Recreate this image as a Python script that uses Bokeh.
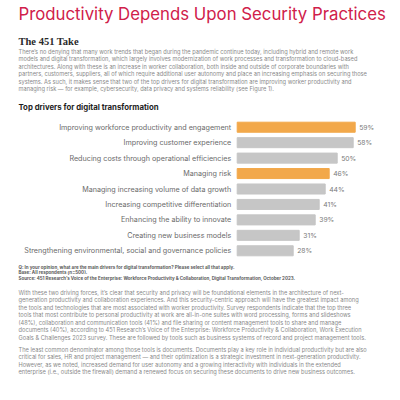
from bokeh.plotting import figure
from bokeh.layouts import column
from bokeh.models import Range1d, FactorRange, ColumnDataSource
from bokeh.core.properties import value
from bokeh.embed import file_html
from bokeh.resources import INLINE

title = "Productivity Depends Upon Security Practices"
subhead = "The 451 Take"
para1 = [
    "There’s no denying that many work trends that began during the pandemic continue today, including hybrid and remote work",
    "models and digital transformation, which largely involves modernization of work processes and transformation to cloud-based",
    "architectures. Along with these is an increase in worker collaboration, both inside and outside of corporate boundaries with",
    "partners, customers, suppliers, all of which require additional user autonomy and place an increasing emphasis on securing those",
    "systems. As such, it makes sense that two of the top drivers for digital transformation are improving worker productivity and",
    "managing risk — for example, cybersecurity, data privacy and systems reliability (see Figure 1).",
]
chart_title = "Top drivers for digital transformation"
categories = [
    "Improving workforce productivity and engagement",
    "Improving customer experience",
    "Reducing costs through operational efficiencies",
    "Managing risk",
    "Managing increasing volume of data growth",
    "Increasing competitive differentiation",
    "Enhancing the ability to innovate",
    "Creating new business models",
    "Strengthening environmental, social and governance policies",
]
values = [59, 58, 50, 46, 44, 41, 39, 31, 28]
highlighted = ["Improving workforce productivity and engagement", "Managing risk"]
notes = [
    "Q: In your opinion, what are the main drivers for digital transformation? Please select all that apply.",
    "Base: All respondents (n=500).",
    "Source: 451 Research’s Voice of the Enterprise: Workforce Productivity & Collaboration, Digital Transformation, October 2023.",
]
para2 = [
    "With these two driving forces, it’s clear that security and privacy will be foundational elements in the architecture of next-",
    "generation productivity and collaboration experiences. And this security-centric approach will have the greatest impact among",
    "the tools and technologies that are most associated with worker productivity. Survey respondents indicate that the top three",
    "tools that most contribute to personal productivity at work are all-in-one suites with word processing, forms and slideshows",
    "(48%), collaboration and communication tools (41%) and file sharing or content management tools to share and manage",
    "documents (40%), according to 451 Research’s Voice of the Enterprise: Workforce Productivity & Collaboration, Work Execution",
    "Goals & Challenges 2023 survey. These are followed by tools such as business systems of record and project management tools.",
]
para3 = [
    "The least common denominator among those tools is documents. Documents play a key role in individual productivity but are also",
    "critical for sales, HR and project management — and their optimization is a strategic investment in next-generation productivity.",
    "However, as we noted, increased demand for user autonomy and a growing interactivity with individuals in the extended",
    "enterprise (i.e., outside the firewall) demand a renewed focus on securing these documents to drive new business outcomes.",
]

W = 400
SANS = "Inter"
LEFT = 18
BODY_SIZE = "5.7px"
BODY_COLOR = "#8a8a8a"
STEP = 7.45


def base_fig(h, x_range, y_range):
    p = figure(width=W, height=h, x_range=x_range, y_range=y_range,
               x_axis_location=None, y_axis_location=None, toolbar_location=None,
               output_backend="svg", min_border=0, outline_line_color=None,
               background_fill_color="white", border_fill_color="white")
    p.xgrid.visible = False
    p.ygrid.visible = False
    return p


def lines(p, rows, y0, size, color, font=SANS, style="normal", step=STEP):
    p.text(x=[LEFT] * len(rows), y=[y0 + i * step for i in range(len(rows))], text=rows,
           text_font=value(font), text_font_size=value(size), text_color=color,
           text_font_style=style, text_baseline="middle", text_align="left")


# ---- top part: title, intro paragraph, chart title (page pixel coordinates)
top = base_fig(118, Range1d(0, W), Range1d(118, 0))
lines(top, [title], 13, "16.8px", "#D0204A")
lines(top, [subhead], 41, "10.5px", "#2b2b2b", font="Liberation Serif", style="bold")
lines(top, para1, 51, BODY_SIZE, BODY_COLOR)
lines(top, [chart_title], 106, "7.8px", "#1e1e1e", style="bold")

# ---- bar chart (percent scale, 0 at the bar baseline)
colors = ["#F2A84A" if c in highlighted else "#C6C6C6" for c in categories]
src = ColumnDataSource(dict(cat=categories, val=values, color=colors,
                            label=[f"{v}%" for v in values], zero=[0] * len(values)))
chart = base_fig(142, Range1d(-118.35, 81.65), FactorRange(factors=categories[::-1]))
chart.min_border_top = 1
chart.min_border_bottom = 2
chart.hbar(y="cat", left=0, right="val", height=0.65, color="color", source=src)
chart.text(x="val", y="cat", text="label", source=src, x_offset=4,
           text_font=value(SANS), text_font_size=value("6.8px"), text_color="#7a7a7a",
           text_baseline="middle", text_align="left")
chart.text(x="zero", y="cat", text="cat", source=src, x_offset=-6,
           text_font=value(SANS), text_font_size=value("7.2px"), text_color="#6a6a6a",
           text_baseline="middle", text_align="right")

# ---- bottom part: notes and paragraphs (page pixel coordinates)
bottom = base_fig(140, Range1d(0, W), Range1d(400, 260))
lines(bottom, notes, 266.5, "4.5px", "#5a5a5a", style="bold", step=5.5)
lines(bottom, para2, 292, BODY_SIZE, BODY_COLOR)
lines(bottom, para3, 349, BODY_SIZE, BODY_COLOR)

page = column(top, chart, bottom, spacing=0)
open("out.html", "w").write(file_html(page, INLINE))
